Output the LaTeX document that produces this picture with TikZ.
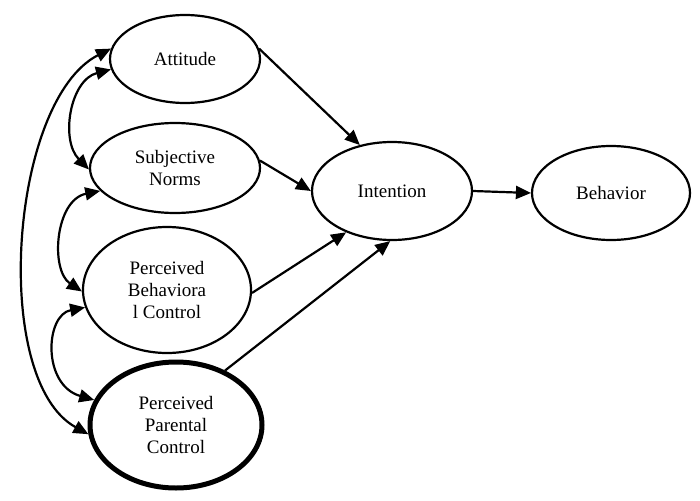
\documentclass[tikz,border=0pt]{standalone}
\usepackage{fontspec}
\setmainfont{Liberation Serif}
\usetikzlibrary{shapes.geometric,arrows.meta}
\begin{document}
\begin{tikzpicture}[x=1pt,y=-1pt,
  ell/.style={ellipse,draw,line width=2.2pt,inner sep=0pt,align=center,
    font=\fontsize{19}{22}\selectfont},
  arr/.style={line width=2.2pt,-{Triangle[length=15pt,width=13pt]}},
  darr/.style={line width=2.2pt,{Triangle[length=15pt,width=13pt]}-{Triangle[length=15pt,width=13pt]}}]
\useasboundingbox (0,0) rectangle (700,500);
\node[ell,minimum width=150pt,minimum height=88pt] (att) at (185,59) {Attitude};
\node[ell,minimum width=170pt,minimum height=90pt] (sn) at (175,168) {Subjective\\Norms};
\node[ell,minimum width=168pt,minimum height=126pt] (pbc) at (167,290) {Perceived\\Behaviora\\l Control};
\node[ell,line width=5pt,minimum width=172pt,minimum height=126pt] (ppc) at (176,425) {Perceived\\Parental\\Control};
\node[ell,minimum width=160pt,minimum height=98pt] (int) at (392,191) {Intention};
\node[ell,minimum width=158pt,minimum height=94pt] (beh) at (611,193) {Behavior};
\draw[arr] (att.8) -- (int.125);
\draw[arr] (sn.5) -- (int.180);
\draw[arr] (pbc.358) -- (int.222);
\draw[arr] (ppc.48) -- (int.268);
\draw[arr] (int.0) -- (beh.180);
\draw[darr] (att.172) .. controls (10,100) and (-10,380) .. (ppc.186);
\draw[darr] (att.188) .. controls (70,80) and (60,140) .. (sn.181);
\draw[darr] (sn.197) .. controls (55,200) and (50,270) .. (pbc.181);
\draw[darr] (pbc.192) .. controls (45,315) and (42,385) .. (ppc.163);
\end{tikzpicture}
\end{document}
